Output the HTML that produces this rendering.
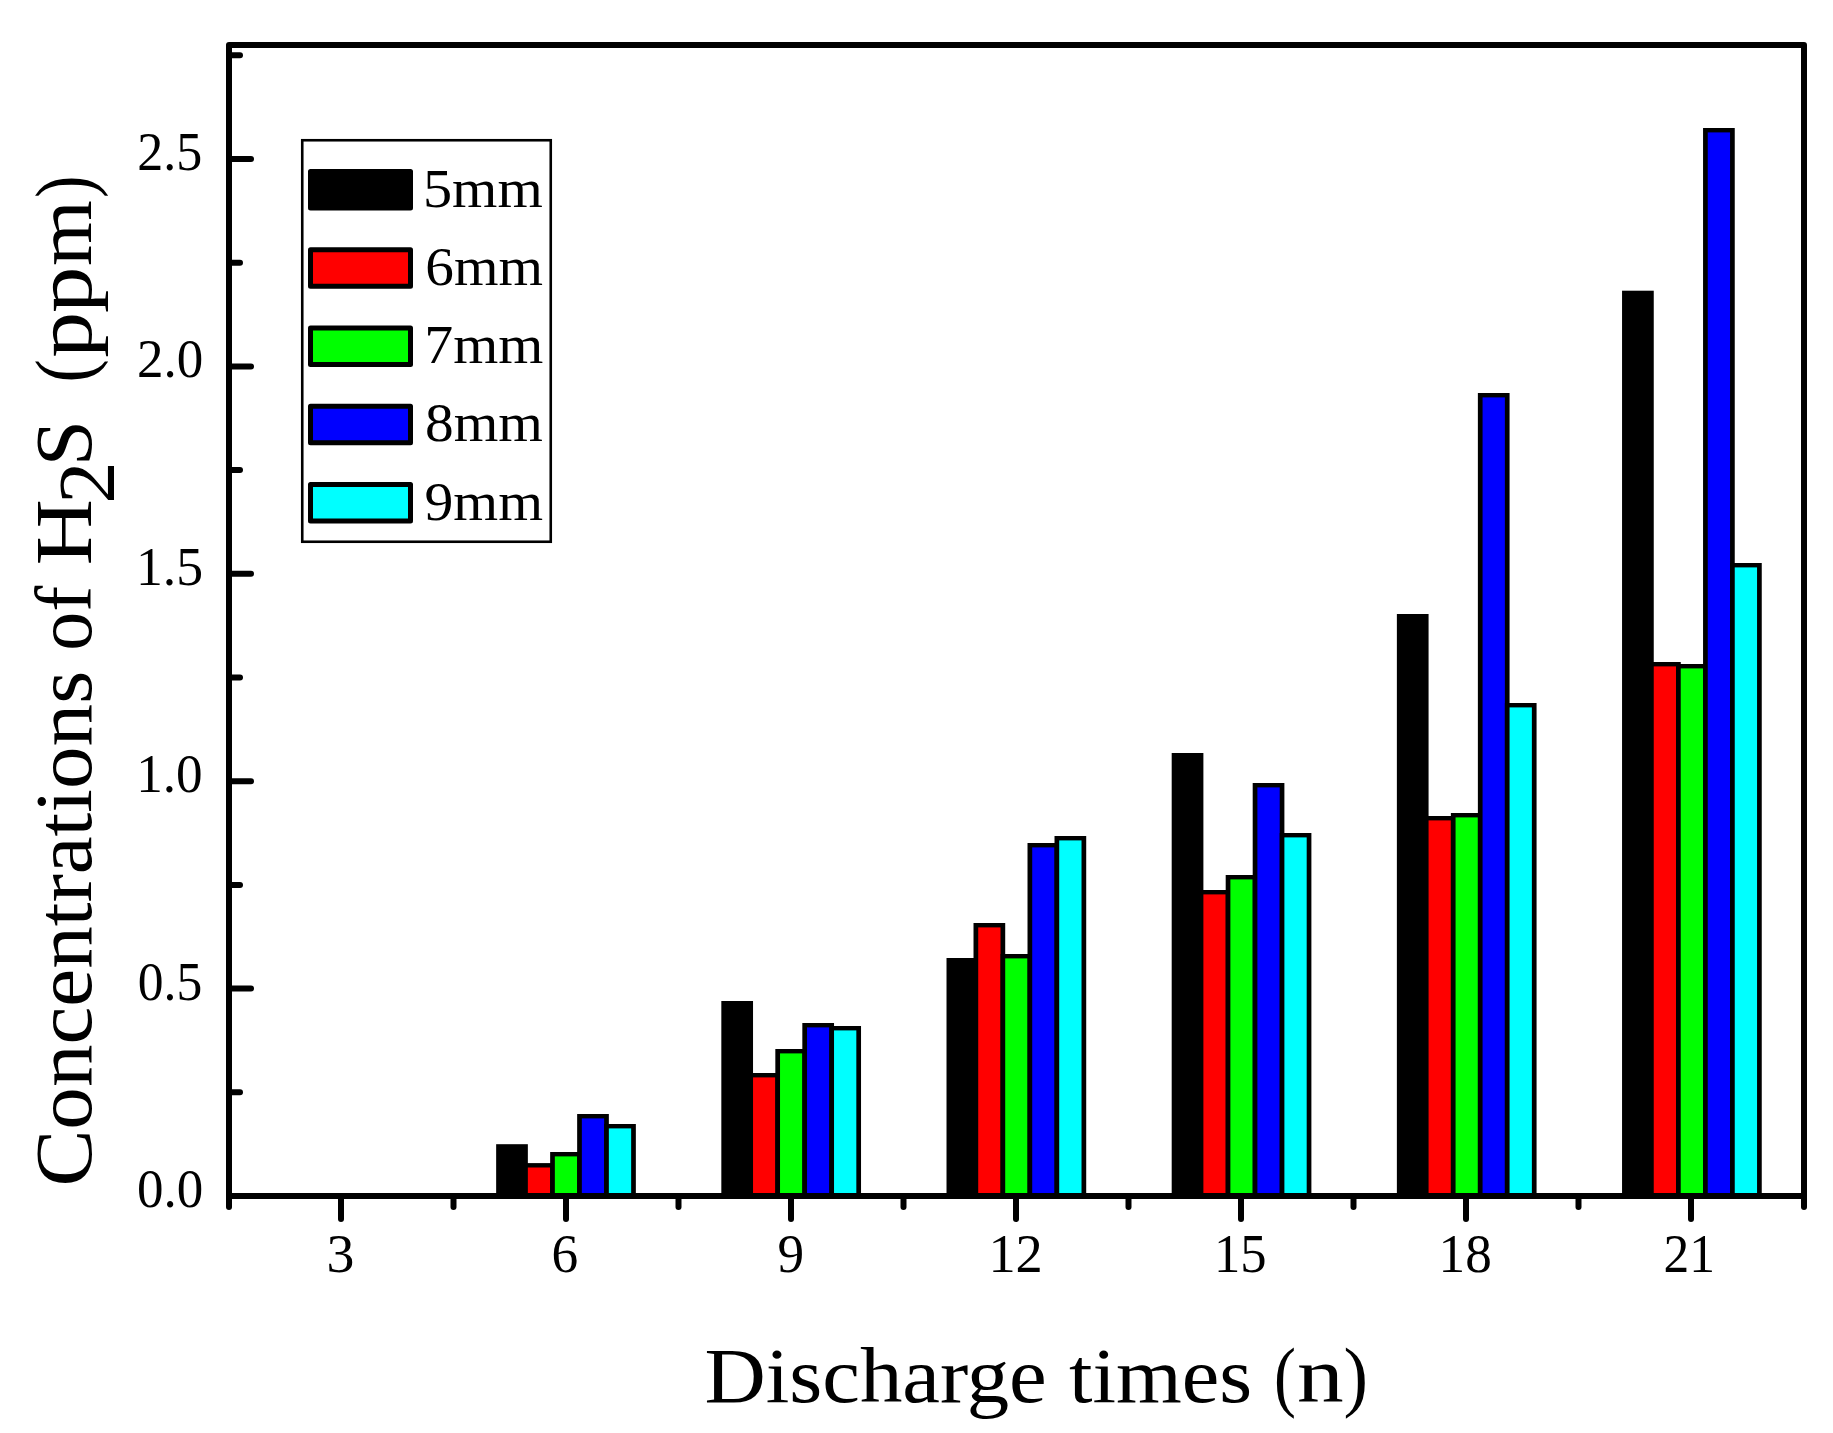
<!DOCTYPE html>
<html lang="en"><head><meta charset="utf-8"><title>Concentrations of H2S vs discharge times</title>
<style>html,body{margin:0;padding:0;background:#fff}body{width:1833px;height:1433px;overflow:hidden}</style></head>
<body>
<svg width="1833" height="1433" viewBox="0 0 1833 1433" style="display:block">
<rect x="0" y="0" width="1833" height="1433" fill="#fff"/>
<g>
<rect x="496.15" y="1144.20" width="31.70" height="51.80" fill="#000"/>
<rect x="523.15" y="1163.10" width="31.70" height="32.90" fill="#000"/>
<rect x="527.85" y="1167.50" width="22.30" height="28.50" fill="#ff0000"/>
<rect x="550.15" y="1152.00" width="31.70" height="44.00" fill="#000"/>
<rect x="554.85" y="1156.40" width="22.30" height="39.60" fill="#00ff00"/>
<rect x="577.15" y="1114.00" width="31.70" height="82.00" fill="#000"/>
<rect x="581.85" y="1118.40" width="22.30" height="77.60" fill="#0000ff"/>
<rect x="604.15" y="1124.00" width="31.70" height="72.00" fill="#000"/>
<rect x="608.85" y="1128.40" width="22.30" height="67.60" fill="#00ffff"/>
<rect x="721.33" y="1001.00" width="31.70" height="195.00" fill="#000"/>
<rect x="748.33" y="1073.00" width="31.70" height="123.00" fill="#000"/>
<rect x="753.03" y="1077.40" width="22.30" height="118.60" fill="#ff0000"/>
<rect x="775.33" y="1049.00" width="31.70" height="147.00" fill="#000"/>
<rect x="780.03" y="1053.40" width="22.30" height="142.60" fill="#00ff00"/>
<rect x="802.33" y="1023.00" width="31.70" height="173.00" fill="#000"/>
<rect x="807.03" y="1027.40" width="22.30" height="168.60" fill="#0000ff"/>
<rect x="829.33" y="1026.00" width="31.70" height="170.00" fill="#000"/>
<rect x="834.03" y="1030.40" width="22.30" height="165.60" fill="#00ffff"/>
<rect x="946.51" y="958.00" width="31.70" height="238.00" fill="#000"/>
<rect x="973.51" y="923.00" width="31.70" height="273.00" fill="#000"/>
<rect x="978.21" y="927.40" width="22.30" height="268.60" fill="#ff0000"/>
<rect x="1000.51" y="954.00" width="31.70" height="242.00" fill="#000"/>
<rect x="1005.21" y="958.40" width="22.30" height="237.60" fill="#00ff00"/>
<rect x="1027.51" y="843.00" width="31.70" height="353.00" fill="#000"/>
<rect x="1032.21" y="847.40" width="22.30" height="348.60" fill="#0000ff"/>
<rect x="1054.51" y="836.00" width="31.70" height="360.00" fill="#000"/>
<rect x="1059.21" y="840.40" width="22.30" height="355.60" fill="#00ffff"/>
<rect x="1171.69" y="753.00" width="31.70" height="443.00" fill="#000"/>
<rect x="1198.69" y="890.00" width="31.70" height="306.00" fill="#000"/>
<rect x="1203.39" y="894.40" width="22.30" height="301.60" fill="#ff0000"/>
<rect x="1225.69" y="875.00" width="31.70" height="321.00" fill="#000"/>
<rect x="1230.39" y="879.40" width="22.30" height="316.60" fill="#00ff00"/>
<rect x="1252.69" y="783.00" width="31.70" height="413.00" fill="#000"/>
<rect x="1257.39" y="787.40" width="22.30" height="408.60" fill="#0000ff"/>
<rect x="1279.69" y="833.00" width="31.70" height="363.00" fill="#000"/>
<rect x="1284.39" y="837.40" width="22.30" height="358.60" fill="#00ffff"/>
<rect x="1396.87" y="614.00" width="31.70" height="582.00" fill="#000"/>
<rect x="1423.87" y="816.00" width="31.70" height="380.00" fill="#000"/>
<rect x="1428.57" y="820.40" width="22.30" height="375.60" fill="#ff0000"/>
<rect x="1450.87" y="813.00" width="31.70" height="383.00" fill="#000"/>
<rect x="1455.57" y="817.40" width="22.30" height="378.60" fill="#00ff00"/>
<rect x="1477.87" y="393.00" width="31.70" height="803.00" fill="#000"/>
<rect x="1482.57" y="397.40" width="22.30" height="798.60" fill="#0000ff"/>
<rect x="1504.87" y="703.00" width="31.70" height="493.00" fill="#000"/>
<rect x="1509.57" y="707.40" width="22.30" height="488.60" fill="#00ffff"/>
<rect x="1622.05" y="290.70" width="31.70" height="905.30" fill="#000"/>
<rect x="1649.05" y="662.00" width="31.70" height="534.00" fill="#000"/>
<rect x="1653.75" y="666.40" width="22.30" height="529.60" fill="#ff0000"/>
<rect x="1676.05" y="664.00" width="31.70" height="532.00" fill="#000"/>
<rect x="1680.75" y="668.40" width="22.30" height="527.60" fill="#00ff00"/>
<rect x="1703.05" y="128.00" width="31.70" height="1068.00" fill="#000"/>
<rect x="1707.75" y="132.40" width="22.30" height="1063.60" fill="#0000ff"/>
<rect x="1730.05" y="563.00" width="31.70" height="633.00" fill="#000"/>
<rect x="1734.75" y="567.40" width="22.30" height="628.60" fill="#00ffff"/>
</g>
<rect x="229" y="45" width="1575" height="1151" fill="none" stroke="#000" stroke-width="6" stroke-linejoin="round"/>
<g stroke="#000" stroke-width="6" stroke-linecap="round" fill="none">
<line x1="229.00" y1="1196" x2="229.00" y2="1207"/>
<line x1="341.00" y1="1196" x2="341.00" y2="1219"/>
<line x1="453.50" y1="1196" x2="453.50" y2="1207"/>
<line x1="566.00" y1="1196" x2="566.00" y2="1219"/>
<line x1="678.50" y1="1196" x2="678.50" y2="1207"/>
<line x1="791.00" y1="1196" x2="791.00" y2="1219"/>
<line x1="903.50" y1="1196" x2="903.50" y2="1207"/>
<line x1="1016.00" y1="1196" x2="1016.00" y2="1219"/>
<line x1="1128.50" y1="1196" x2="1128.50" y2="1207"/>
<line x1="1241.00" y1="1196" x2="1241.00" y2="1219"/>
<line x1="1353.50" y1="1196" x2="1353.50" y2="1207"/>
<line x1="1466.00" y1="1196" x2="1466.00" y2="1219"/>
<line x1="1578.50" y1="1196" x2="1578.50" y2="1207"/>
<line x1="1691.00" y1="1196" x2="1691.00" y2="1219"/>
<line x1="1804.00" y1="1196" x2="1804.00" y2="1207"/>
<line x1="229" y1="1092.30" x2="240" y2="1092.30"/>
<line x1="229" y1="988.60" x2="251" y2="988.60"/>
<line x1="229" y1="884.90" x2="240" y2="884.90"/>
<line x1="229" y1="781.20" x2="251" y2="781.20"/>
<line x1="229" y1="677.50" x2="240" y2="677.50"/>
<line x1="229" y1="573.80" x2="251" y2="573.80"/>
<line x1="229" y1="470.10" x2="240" y2="470.10"/>
<line x1="229" y1="366.40" x2="251" y2="366.40"/>
<line x1="229" y1="262.70" x2="240" y2="262.70"/>
<line x1="229" y1="159.00" x2="251" y2="159.00"/>
<line x1="229" y1="55.30" x2="240" y2="55.30"/>
</g>
<g font-family='"Liberation Serif", serif' fill="#000">
<text x="137.0" y="1207.0" font-size="54.5" textLength="66.27" lengthAdjust="spacingAndGlyphs">0.0</text>
<text x="137.7" y="999.6" font-size="54.5" textLength="64.48" lengthAdjust="spacingAndGlyphs">0.5</text>
<text x="136.2" y="792.2" font-size="54.5" textLength="66.49" lengthAdjust="spacingAndGlyphs">1.0</text>
<text x="135.9" y="584.8" font-size="54.5" textLength="67.11" lengthAdjust="spacingAndGlyphs">1.5</text>
<text x="137.0" y="377.4" font-size="54.5" textLength="66.27" lengthAdjust="spacingAndGlyphs">2.0</text>
<text x="137.3" y="170.0" font-size="54.5" textLength="65.02" lengthAdjust="spacingAndGlyphs">2.5</text>
<text x="326.5" y="1271.8" font-size="54.5" textLength="27.88" lengthAdjust="spacingAndGlyphs">3</text>
<text x="551.6" y="1271.8" font-size="54.5" textLength="26.72" lengthAdjust="spacingAndGlyphs">6</text>
<text x="777.5" y="1271.8" font-size="54.5" textLength="26.61" lengthAdjust="spacingAndGlyphs">9</text>
<text x="988.4" y="1271.8" font-size="54.5" textLength="54.41" lengthAdjust="spacingAndGlyphs">12</text>
<text x="1214.0" y="1271.8" font-size="54.5" textLength="52.59" lengthAdjust="spacingAndGlyphs">15</text>
<text x="1438.6" y="1271.8" font-size="54.5" textLength="53.17" lengthAdjust="spacingAndGlyphs">18</text>
<text x="1663.5" y="1271.8" font-size="54.5" textLength="51.47" lengthAdjust="spacingAndGlyphs">21</text>
</g>
<rect x="302.25" y="140.25" width="248.5" height="401.5" fill="#fff" stroke="#000" stroke-width="2.6"/>
<g font-family='"Liberation Serif", serif' font-size="53" fill="#000">
<rect x="310.5" y="171.50" width="100" height="36.5" fill="#000000" stroke="#000" stroke-width="5" stroke-linejoin="round"/>
<text x="422.9" y="206.6" font-size="54" textLength="119.84" lengthAdjust="spacingAndGlyphs">5mm</text>
<rect x="310.5" y="249.75" width="100" height="36.5" fill="#ff0000" stroke="#000" stroke-width="5" stroke-linejoin="round"/>
<text x="425.3" y="284.9" font-size="54" textLength="117.68" lengthAdjust="spacingAndGlyphs">6mm</text>
<rect x="310.5" y="328.00" width="100" height="36.5" fill="#00ff00" stroke="#000" stroke-width="5" stroke-linejoin="round"/>
<text x="424.3" y="363.1" font-size="54" textLength="119.09" lengthAdjust="spacingAndGlyphs">7mm</text>
<rect x="310.5" y="406.25" width="100" height="36.5" fill="#0000ff" stroke="#000" stroke-width="5" stroke-linejoin="round"/>
<text x="425.1" y="441.4" font-size="54" textLength="117.89" lengthAdjust="spacingAndGlyphs">8mm</text>
<rect x="310.5" y="484.50" width="100" height="36.5" fill="#00ffff" stroke="#000" stroke-width="5" stroke-linejoin="round"/>
<text x="424.5" y="519.6" font-size="54" textLength="118.53" lengthAdjust="spacingAndGlyphs">9mm</text>
</g>
<g font-family='"Liberation Serif", serif' fill="#000">
<text x="704.4" y="1401.6" font-size="78" textLength="342.33" lengthAdjust="spacingAndGlyphs">Discharge</text>
<text x="1069.1" y="1401.6" font-size="78" textLength="183.12" lengthAdjust="spacingAndGlyphs">times</text>
<text x="1274.0" y="1401.6" font-size="78" textLength="21.93" lengthAdjust="spacingAndGlyphs">(</text>
<text x="1297.0" y="1401.6" font-size="78" textLength="46.67" lengthAdjust="spacingAndGlyphs">n</text>
<text x="1343.6" y="1401.6" font-size="78" textLength="24.51" lengthAdjust="spacingAndGlyphs">)</text>
<text transform="translate(90.5,1186.5) rotate(-90)" font-size="80" textLength="515.8" lengthAdjust="spacingAndGlyphs">Concentrations</text>
<text transform="translate(90.5,650.7) rotate(-90)" font-size="80" textLength="64.83" lengthAdjust="spacingAndGlyphs">of</text>
<text transform="translate(90.5,565.4) rotate(-90)" font-size="80" textLength="66.42" lengthAdjust="spacingAndGlyphs">H</text>
<text transform="translate(114.0,503.7) rotate(-90)" font-size="81" textLength="42.36" lengthAdjust="spacingAndGlyphs">2</text>
<text transform="translate(90.5,466.2) rotate(-90)" font-size="80" textLength="46.25" lengthAdjust="spacingAndGlyphs">S</text>
<text transform="translate(90.5,382.5) rotate(-90)" font-size="80" textLength="23.36" lengthAdjust="spacingAndGlyphs">(</text>
<text transform="translate(90.5,357.8) rotate(-90)" font-size="80" textLength="45.94" lengthAdjust="spacingAndGlyphs">p</text>
<text transform="translate(90.5,313.1) rotate(-90)" font-size="80" textLength="46.39" lengthAdjust="spacingAndGlyphs">p</text>
<text transform="translate(90.5,265.9) rotate(-90)" font-size="80" textLength="65.96" lengthAdjust="spacingAndGlyphs">m</text>
<text transform="translate(90.5,198.1) rotate(-90)" font-size="80" textLength="22.51" lengthAdjust="spacingAndGlyphs">)</text>
</g>
</svg>
</body></html>
